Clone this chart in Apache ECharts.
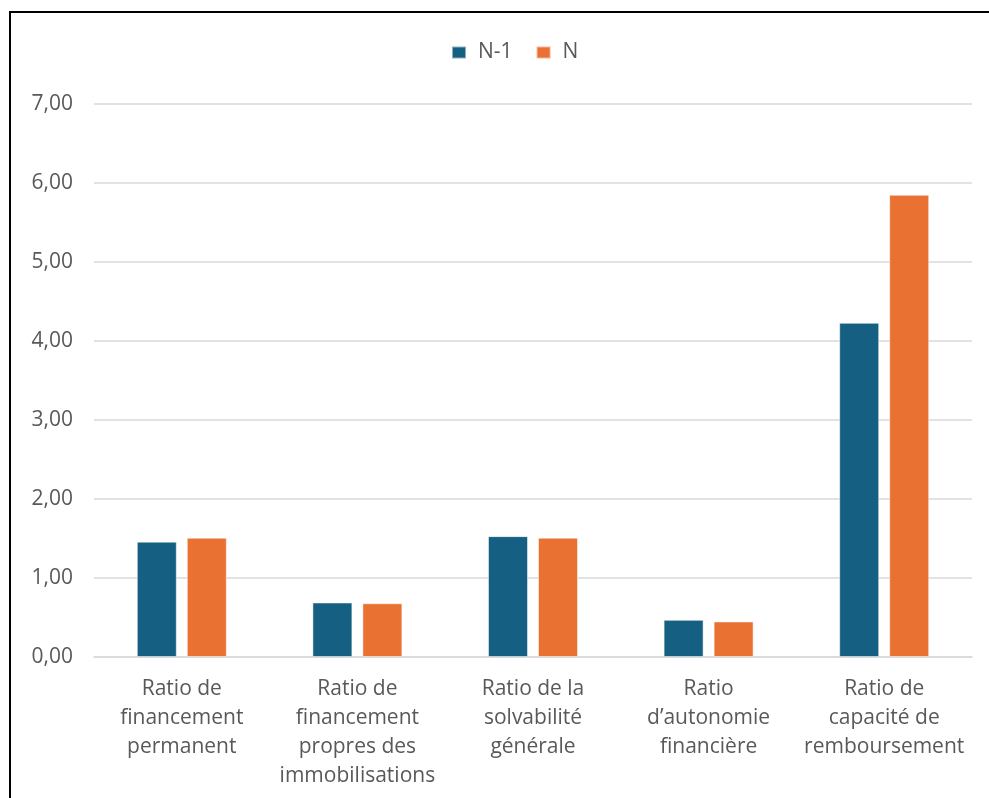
<!DOCTYPE html>
<html>
<head>
<meta charset="utf-8">
<script src="https://cdn.jsdelivr.net/npm/echarts@6/dist/echarts.min.js"></script>
<style>
  html, body { margin: 0; padding: 0; background: #fff; }
  #chart { width: 989px; height: 798px; }
</style>
</head>
<body>
<div id="chart"></div>
<script>
// Financial ratios, previous year (N-1) vs current year (N)
const categories = [
  'Ratio de\nfinancement\npermanent',
  'Ratio de\nfinancement\npropres des\nimmobilisations',
  'Ratio de la\nsolvabilité\ngénérale',
  'Ratio\nd\u2019autonomie\nfinancière',
  'Ratio de\ncapacité de\nremboursement'
];
const seriesNames = ['N-1', 'N'];
const valuesPrev = [1.46, 0.69, 1.53, 0.47, 4.23];
const valuesCurr = [1.51, 0.68, 1.51, 0.45, 5.85];
const yTicks = { min: 0, max: 7, interval: 1 };

const FONT = 'Open Sans';
const TEXT = '#595959';

const chart = echarts.init(document.getElementById('chart'), null, { renderer: 'canvas' });
chart.setOption({
  backgroundColor: '#ffffff',
  animation: false,
  textStyle: { fontFamily: FONT, color: TEXT },
  graphic: [{
    type: 'rect',
    z: -1,
    shape: { x: 10, y: 12, width: 1000, height: 800 },
    style: { fill: 'none', stroke: '#000000', lineWidth: 2 }
  }],
  legend: {
    data: seriesNames,
    top: 37,
    left: 446,
    itemWidth: 14,
    itemHeight: 12,
    itemGap: 23,
    icon: 'rect',
    textStyle: { fontFamily: FONT, fontSize: 21, color: TEXT, padding: [0, 0, 0, 7] }
  },
  grid: { left: 94, right: 17, top: 104, bottom: 141, containLabel: false },
  xAxis: {
    type: 'category',
    data: categories,
    axisLine: { show: true, lineStyle: { color: '#D9D9D9', width: 1.5 } },
    axisTick: { show: false },
    axisLabel: {
      interval: 0,
      margin: 18,
      fontFamily: FONT,
      fontSize: 21,
      lineHeight: 29,
      color: TEXT,
      align: 'center'
    }
  },
  yAxis: {
    type: 'value',
    min: yTicks.min,
    max: yTicks.max,
    interval: yTicks.interval,
    axisLine: { show: false },
    axisTick: { show: false },
    splitLine: { lineStyle: { color: '#D9D9D9', width: 1.5 } },
    axisLabel: {
      margin: 21,
      fontFamily: FONT,
      fontSize: 21,
      color: TEXT,
      formatter: v => v.toFixed(2).replace('.', ',')
    }
  },
  series: [
    {
      name: seriesNames[0],
      type: 'bar',
      data: valuesPrev,
      barWidth: 40,
      barGap: '25%',
      itemStyle: { color: '#156082', borderColor: 'rgba(255,255,255,0.5)', borderWidth: 1 }
    },
    {
      name: seriesNames[1],
      type: 'bar',
      data: valuesCurr,
      barWidth: 40,
      itemStyle: { color: '#E97132', borderColor: 'rgba(255,255,255,0.5)', borderWidth: 1 }
    }
  ]
});
</script>
</body>
</html>
